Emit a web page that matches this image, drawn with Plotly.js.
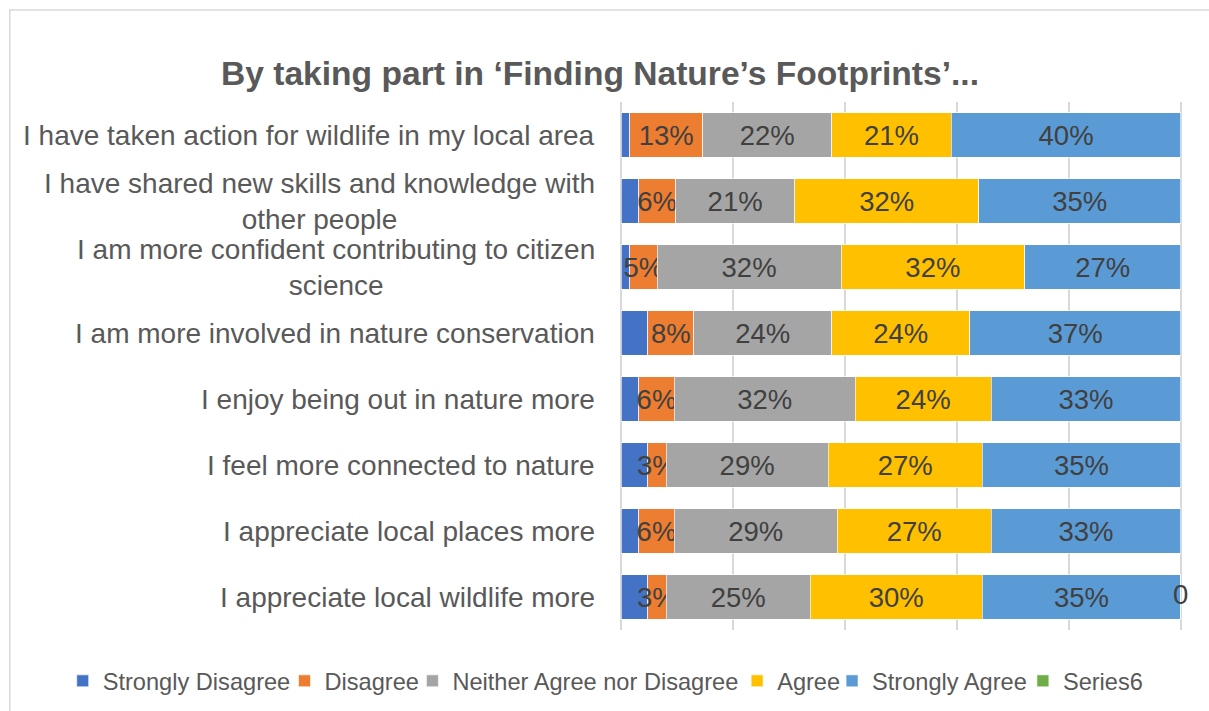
<!DOCTYPE html>
<html>
<head>
<meta charset="utf-8">
<script src="https://cdn.plot.ly/plotly-3.0.1.min.js"></script>
<style>html,body{margin:0;padding:0;background:#fff;}#chart{width:1209px;height:711px;}</style>
</head>
<body>
<div id="chart"></div>
<script>
// Categories, top to bottom
const categories = [
  "I have taken action for wildlife in my local area",
  "I have shared new skills and knowledge with<br>other people",
  "I am more confident contributing to citizen<br>science",
  "I am more involved in nature conservation",
  "I enjoy being out in nature more",
  "I feel more connected to nature",
  "I appreciate local places more",
  "I appreciate local wildlife more"
];
const seriesNames = ["Strongly Disagree", "Disagree", "Neither Agree nor Disagree", "Agree", "Strongly Agree", "Series6"];

// Bar shares (% of each 100% stacked bar)
const stronglyDisagree = [1.5, 3.1, 1.5, 4.7, 3.1, 4.7, 3.1, 4.7];
const disagree         = [13.1, 6.6, 4.9, 8.3, 6.4, 3.3, 6.4, 3.3];
const neither          = [23.0, 21.3, 32.9, 24.6, 32.3, 29.0, 29.1, 25.8];
const agree            = [21.4, 32.9, 32.8, 24.7, 24.3, 27.5, 27.5, 30.7];
const stronglyAgree    = [41.0, 36.1, 27.9, 37.7, 33.9, 35.5, 33.9, 35.5];
const series6          = [null, null, null, null, null, null, null, 0];

// Data labels as printed on the chart
const disagreeLabels      = ["13%", "6%", "5%", "8%", "6%", "3%", "6%", "3%"];
const neitherLabels       = ["22%", "21%", "32%", "24%", "32%", "29%", "29%", "25%"];
const agreeLabels         = ["21%", "32%", "32%", "24%", "24%", "27%", "27%", "30%"];
const stronglyAgreeLabels = ["40%", "35%", "27%", "37%", "33%", "35%", "33%", "35%"];
const series6Labels       = [null, null, null, null, null, null, null, "0"];

const colors = ["#4472C4", "#ED7D31", "#A5A5A5", "#FFC000", "#5B9BD5", "#70AD47"];
const values = [stronglyDisagree, disagree, neither, agree, stronglyAgree, series6];
const labels = [null, disagreeLabels, neitherLabels, agreeLabels, stronglyAgreeLabels, null];

const FONT = "'Liberation Sans', Arial, sans-serif";
const labelFont = {family: FONT, size: 27.5, color: "#404040"};

const traces = values.map((v, i) => ({
  type: "bar",
  orientation: "h",
  name: seriesNames[i],
  y: categories,
  x: v,
  text: labels[i] || undefined,
  textposition: labels[i] ? "inside" : "none",
  insidetextanchor: "middle",
  constraintext: "none",
  textangle: 0,
  textfont: labelFont,
  marker: {color: colors[i], line: {color: "rgba(255,255,255,0.8)", width: 0.8}},
  legend: i === 0 ? "legend" : "legend" + (i + 1),
  hoverinfo: "skip"
}));

// Series6 value label at the end of each stack
const rowTotals = categories.map((c, r) => values.slice(0, 5).reduce((s, arr) => s + arr[r], 0));
traces.push({
  type: "scatter",
  mode: "text",
  x: rowTotals.map((t, r) => series6[r] === null ? null : t + series6[r]),
  y: categories,
  text: series6Labels,
  textposition: "middle center",
  textfont: labelFont,
  cliponaxis: false,
  showlegend: false,
  hoverinfo: "skip"
});

// Geometry: x range padded a little so the 0 % and 100 % gridlines are drawn
const PAD = 0.4, PXU = 5.6, X0PX = 621;
const plotL = X0PX - PAD * PXU;
const plotW = (100 + 2 * PAD) * PXU;
const plotR = 1209 - plotL - plotW;
const plotT = 102, plotH = 528;
const px2x = px => (px - plotL) / plotW;
const px2y = py => (plotT + plotH - py) / plotH;

// Category labels as annotations (block right-aligned, lines centred)
const annotations = categories.map(c => ({
  xref: "paper", yref: "y", x: 0, y: c, xanchor: "right", yanchor: "middle",
  xshift: 597 - plotL, text: c, align: "center", showarrow: false,
  font: {family: FONT, size: 28, color: "#595959"}
}));

// Legend positions (pixel start of each legend entry)
const legendStarts = [62, 284, 412, 737, 832, 1023];
const layout = {
  width: 1209, height: 711,
  margin: {l: plotL, r: plotR, t: plotT, b: 711 - plotT - plotH, autoexpand: false},
  paper_bgcolor: "#ffffff", plot_bgcolor: "#ffffff",
  barmode: "stack", bargap: 0.333,
  title: {
    text: "By taking part in ‘Finding Nature’s Footprints’...",
    font: {family: FONT, size: 33.6, color: "#595959", weight: "bold"},
    xref: "container", yref: "container", x: 600 / 1209, y: 1 - 73 / 711,
    xanchor: "center", yanchor: "middle"
  },
  xaxis: {range: [-PAD, 100 + PAD], dtick: 20, tick0: 0, showticklabels: false, showgrid: true,
          gridcolor: "#d9d9d9", gridwidth: 1.6, zeroline: false, showline: false, ticks: "", fixedrange: true},
  yaxis: {autorange: "reversed", showticklabels: false, showgrid: false, zeroline: false, ticks: "", fixedrange: true},
  annotations: annotations,
  shapes: [{type: "rect", xref: "paper", yref: "paper",
            x0: px2x(9), x1: px2x(1230), y0: px2y(730), y1: px2y(10),
            line: {color: "#d9d9d9", width: 1.5}, fillcolor: "rgba(0,0,0,0)", layer: "below"}],
  showlegend: true
};
legendStarts.forEach((px, i) => {
  layout[i === 0 ? "legend" : "legend" + (i + 1)] = {
    orientation: "h", x: px2x(px), xanchor: "left",
    y: px2y(681), yanchor: "middle",
    font: {family: FONT, size: 23.6, color: "#595959"},
    bgcolor: "rgba(0,0,0,0)", borderwidth: 0
  };
});

Plotly.newPlot("chart", traces, layout, {displayModeBar: false, staticPlot: true});
</script>
</body>
</html>
